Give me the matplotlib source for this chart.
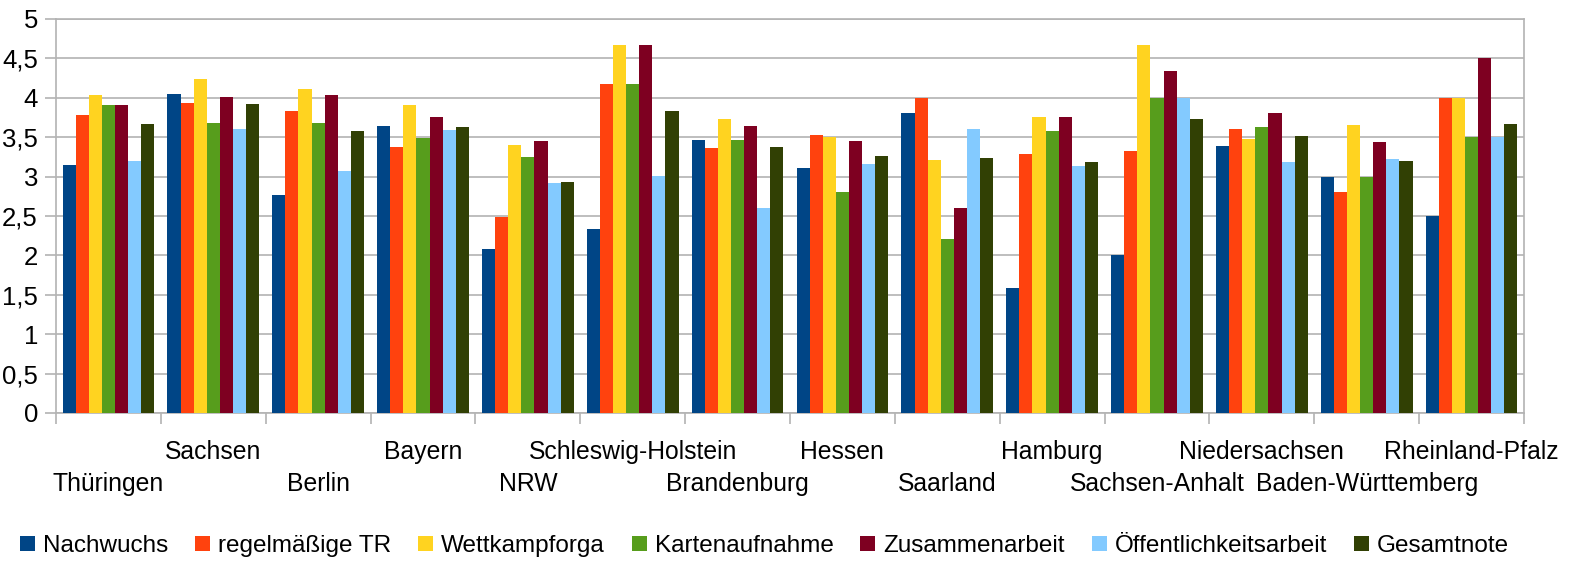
import matplotlib
matplotlib.use("Agg")
import matplotlib.pyplot as plt
from matplotlib.ticker import FixedLocator, FuncFormatter, NullFormatter
import numpy as np

plt.rcParams['font.family'] = ['Liberation Sans', 'DejaVu Sans']

categories = ["Thüringen", "Sachsen", "Berlin", "Bayern", "NRW", "Schleswig-Holstein",
              "Brandenburg", "Hessen", "Saarland", "Hamburg", "Sachsen-Anhalt",
              "Niedersachsen", "Baden-Württemberg", "Rheinland-Pfalz"]

series_names = ["Nachwuchs", "regelmäßige TR", "Wettkampforga", "Kartenaufnahme",
                "Zusammenarbeit", "Öffentlichkeitsarbeit", "Gesamtnote"]

nachwuchs = [3.15, 4.05, 2.77, 3.64, 2.08, 2.33, 3.47, 3.11, 3.81, 1.58, 2.00, 3.39, 3.00, 2.50]
regelmaessige_tr = [3.78, 3.93, 3.83, 3.38, 2.49, 4.17, 3.36, 3.53, 4.00, 3.29, 3.33, 3.61, 2.81, 4.00]
wettkampforga = [4.04, 4.24, 4.11, 3.91, 3.40, 4.67, 3.73, 3.50, 3.21, 3.76, 4.67, 3.48, 3.66, 4.00]
kartenaufnahme = [3.91, 3.68, 3.68, 3.49, 3.25, 4.17, 3.47, 2.81, 2.21, 3.58, 4.00, 3.63, 3.00, 3.50]
zusammenarbeit = [3.91, 4.01, 4.04, 3.76, 3.45, 4.67, 3.64, 3.45, 2.60, 3.76, 4.34, 3.81, 3.44, 4.50]
oeffentlichkeitsarbeit = [3.20, 3.61, 3.07, 3.59, 2.92, 3.01, 2.60, 3.16, 3.61, 3.14, 4.00, 3.19, 3.22, 3.50]
gesamtnote = [3.67, 3.92, 3.58, 3.63, 2.93, 3.83, 3.38, 3.26, 3.24, 3.19, 3.73, 3.52, 3.20, 3.67]

series_values = [nachwuchs, regelmaessige_tr, wettkampforga, kartenaufnahme,
                 zusammenarbeit, oeffentlichkeitsarbeit, gesamtnote]
colors = ["#004586", "#ff420e", "#ffd320", "#579d1c", "#7e0021", "#83caff", "#314004"]

y_ticks = [0, 0.5, 1, 1.5, 2, 2.5, 3, 3.5, 4, 4.5, 5]

fig = plt.figure(figsize=(15.7, 5.63), dpi=100)
ax = fig.add_axes([56/1570, 1 - 413/563, (1524 - 56)/1570, (413 - 19)/563])

x = np.arange(len(categories))
w = 0.125
for j, (name, vals, c) in enumerate(zip(series_names, series_values, colors)):
    ax.bar(x + (j - 3) * w, vals, width=w, color=c, label=name, zorder=3, linewidth=0)

ax.set_xlim(-0.5, len(categories) - 0.5)
ax.set_ylim(0, 5)
grid_c = "#b3b3b3"
ax.set_yticks(y_ticks)
ax.yaxis.set_major_formatter(FuncFormatter(lambda v, p: ("%g" % v).replace(".", ",")))
ax.yaxis.grid(True, color=grid_c, linewidth=1.2, zorder=0)
ax.tick_params(axis='y', direction='out', length=8, color=grid_c, width=1.2,
               labelsize=18.5, pad=5, labelcolor='black')

# x ticks at category boundaries; staggered category labels below
ax.xaxis.set_major_locator(FixedLocator(np.arange(-0.5, len(categories), 1.0)))
ax.xaxis.set_major_formatter(NullFormatter())
ax.tick_params(axis='x', which='major', direction='out', length=8, color=grid_c, width=1.2)
xtr = ax.get_xaxis_transform()
for i, name in enumerate(categories):
    yy = -0.1168 if i % 2 == 1 else -0.198
    ax.text(i, yy, name, transform=xtr, ha='center', va='baseline', fontsize=17.8)

for s in ax.spines.values():
    s.set_color(grid_c)
    s.set_linewidth(1.2)

fig.legend(loc='center', bbox_to_anchor=(0.487, 1 - 546/563), ncol=7, frameon=False,
           fontsize=17.5, handlelength=0.62, handleheight=0.62, handletextpad=0.33,
           columnspacing=1.1, borderaxespad=0.0, borderpad=0.0)

fig.savefig("out.png", dpi=100)
